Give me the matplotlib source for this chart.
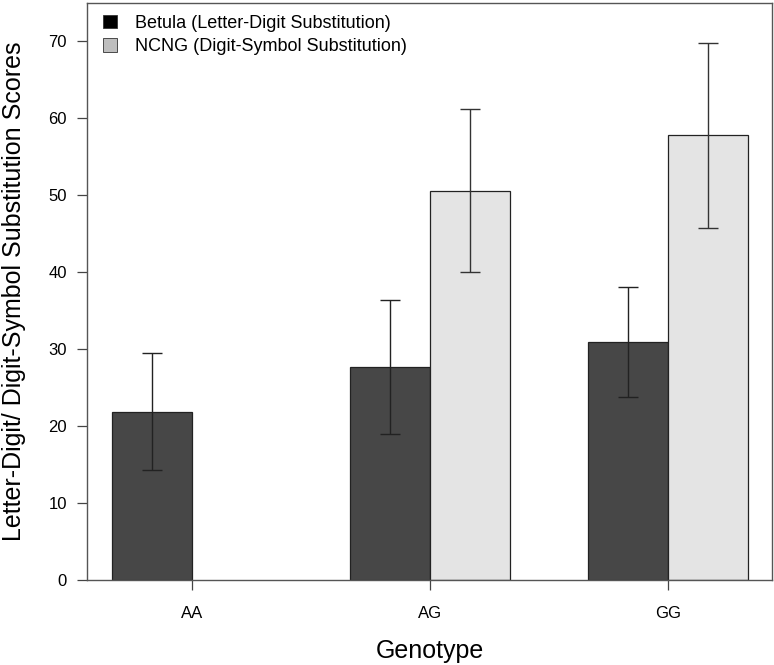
import numpy as np
import matplotlib
matplotlib.use("Agg")
import matplotlib.pyplot as plt
from matplotlib.patches import Patch

plt.rcParams['font.family'] = ['Liberation Sans', 'DejaVu Sans']

genotypes = ["AA", "AG", "GG"]
series_names = ["Betula (Letter-Digit Substitution)", "NCNG (Digit-Symbol Substitution)"]
betula_mean = [21.9, 27.7, 30.9]
betula_err = [7.6, 8.7, 7.15]
ncng_mean = [np.nan, 50.6, 57.8]
ncng_err = [np.nan, 10.6, 12.0]
yticks = [0, 10, 20, 30, 40, 50, 60, 70]

fig = plt.figure(figsize=(7.74, 6.65), dpi=100)
ax = fig.add_axes([87/774, 1-580/665, (772-87)/774, (580-3)/665])

x = np.arange(len(genotypes))
w = 0.336
bar_colors = ['#474747', '#e4e4e4']
ax.bar(x - w/2, betula_mean, width=w, color=bar_colors[0], edgecolor='#222222', linewidth=0.9, zorder=2)
ax.bar(x + w/2, ncng_mean, width=w, color=bar_colors[1], edgecolor='#222222', linewidth=0.9, zorder=2)
ax.errorbar(x - w/2, betula_mean, yerr=betula_err, fmt='none', ecolor='#222222', elinewidth=1.0, capsize=7.5, capthick=1.0, zorder=3)
ax.errorbar(x + w/2, ncng_mean, yerr=ncng_err, fmt='none', ecolor='#333333', elinewidth=1.0, capsize=7.5, capthick=1.0, zorder=3)

ax.set_xlim(-0.441, 2.437)
ax.set_ylim(0, 75)
ax.set_xticks(x)
ax.set_xticklabels(genotypes, fontsize=12)
ax.set_yticks(yticks)
ax.set_yticklabels([str(t) for t in yticks], fontsize=12)
ax.tick_params(axis='both', direction='out', length=7.5, width=0.9, color='#444444')
ax.tick_params(axis='y', pad=7)
ax.tick_params(axis='x', pad=11)
for s in ax.spines.values():
    s.set_color('#555555')
    s.set_linewidth(1.0)

ax.set_ylabel("Letter-Digit/ Digit-Symbol Substitution Scores", fontsize=18, labelpad=16)
ax.set_xlabel("Genotype", fontsize=18, labelpad=13)

handles = [Patch(facecolor='#000000', edgecolor='#333333', linewidth=0.6),
           Patch(facecolor='#bebebe', edgecolor='#333333', linewidth=0.6)]
ax.legend(handles, series_names, loc='upper left', bbox_to_anchor=(16/685, 1-12/577),
          frameon=False, fontsize=13, handlelength=0.75, handleheight=0.75,
          handletextpad=1.0, borderpad=0, borderaxespad=0, labelspacing=0.35)

fig.savefig("out.png", dpi=100)
